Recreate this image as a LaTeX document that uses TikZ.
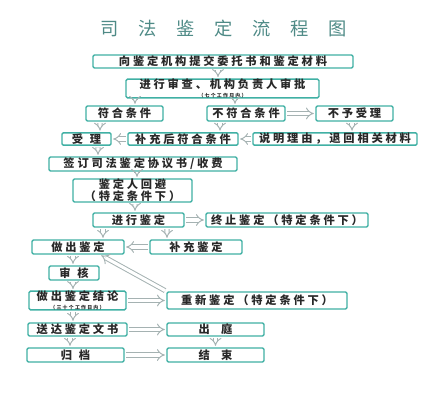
\documentclass[tikz,border=0pt]{standalone}
\usepackage{fontspec}
\setmainfont{Noto Sans CJK SC}[LetterSpace=25]
\newfontfamily\titlefont{Noto Sans CJK SC}[LetterSpace=108]
\usetikzlibrary{arrows.meta}
\definecolor{boxline}{RGB}{64,176,164}
\definecolor{titlecol}{RGB}{78,138,134}
\definecolor{boxtext}{RGB}{40,40,40}
\definecolor{flowcol}{RGB}{165,178,178}
\newcommand\pxu{0.025cm}
\newcommand\note[1]{{\fontsize{3.5}{4}\selectfont #1}}
\begin{document}
\begin{tikzpicture}[x=0.025cm,y=-0.025cm,
	box/.style={draw=boxline,line width=1pt,rounded corners=1pt,fill=white,inner sep=0pt,
		font=\fontsize{8}{9}\selectfont\bfseries,text=boxtext,align=center},
	flow/.style={draw=flowcol,double=white,double distance=2.2pt,line width=0.7pt,
		-{Implies},shorten <=1pt,shorten >=1pt}]
		
		\useasboundingbox (0,0) rectangle (434,400);
		%title
		\node[text=titlecol,font=\titlefont\fontsize{13}{15}\selectfont] (title) at (224,29) {司法鉴定流程图};
		%boxes
		\node[box,minimum width=6.5cm,minimum height=0.325cm] (submit) at (223,61.5) {向鉴定机构提交委托书和鉴定材料};
		\node[box,minimum width=4.825cm,minimum height=0.425cm] (review) at (222.5,88.5) {进行审查、机构负责人审批\\[-3pt]\note{（七个工作日内）}};
		\node[box,minimum width=1.925cm,minimum height=0.375cm] (ok) at (124.5,113.5) {符合条件};
		\node[box,minimum width=1.95cm,minimum height=0.375cm] (notok) at (246,113.5) {不符合条件};
		\node[box,minimum width=1.925cm,minimum height=0.375cm] (reject) at (354.5,113.5) {不予受理};
		\node[box,minimum width=1.225cm,minimum height=0.31cm] (accept) at (86.5,139) {受\hspace{.6em}理};
		\node[box,minimum width=2.75cm,minimum height=0.31cm] (supp) at (183,139) {补充后符合条件};
		\node[box,minimum width=4.1cm,minimum height=0.31cm] (explain) at (335,139) {说明理由，退回相关材料};
		\node[box,minimum width=4.7cm,minimum height=0.35cm] (sign) at (143,164) {签订司法鉴定协议书/收费};
		\node[box,minimum width=2.975cm,minimum height=0.575cm] (avoid) at (132.5,190.5) {鉴定人回避\\[-0.5pt]（特定条件下）};
		\node[box,minimum width=2.275cm,minimum height=0.35cm] (appraise) at (138.5,220) {进行鉴定};
		\node[box,minimum width=4.05cm,minimum height=0.35cm] (stop) at (287,220) {终止鉴定（特定条件下）};
		\node[box,minimum width=2.3cm,minimum height=0.35cm] (make) at (78,247) {做出鉴定};
		\node[box,minimum width=2.3cm,minimum height=0.35cm] (extra) at (196,247) {补充鉴定};
		\node[box,minimum width=1.25cm,minimum height=0.35cm] (check) at (74,273) {审\hspace{.6em}核};
		\node[box,minimum width=2.425cm,minimum height=0.425cm] (concl) at (77.5,300.5) {做出鉴定结论\\[-3pt]\note{（三十个工作日内）}};
		\node[box,minimum width=4.5cm,minimum height=0.425cm] (redo) at (257,300.5) {重新鉴定（特定条件下）};
		\node[box,minimum width=2.475cm,minimum height=0.325cm] (deliver) at (77.5,329.5) {送达鉴定文书};
		\node[box,minimum width=2.425cm,minimum height=0.325cm] (court) at (215.5,329.5) {出\hspace{1em}庭};
		\node[box,minimum width=2.425cm,minimum height=0.35cm] (archive) at (75.5,355) {归\hspace{.6em}档};
		\node[box,minimum width=2.425cm,minimum height=0.35cm] (finish) at (215.5,355) {结\hspace{1em}束};
		%arrows
		\draw[flow] ([xshift=-5*\pxu]submit.south) -- ([xshift=-4.5*\pxu]review.north);
		\draw[flow] ([xshift=-87.5*\pxu]review.south) -- ([xshift=10.5*\pxu]ok.north);
		\draw[flow] ([xshift=12.5*\pxu]review.south) -- ([xshift=-11*\pxu]notok.north);
		\draw[flow] (notok.east) -- (reject.west);
		\draw[flow] ([xshift=-24.5*\pxu]ok.south) -- ([xshift=13.5*\pxu]accept.north);
		\draw[flow] ([xshift=-26*\pxu]notok.south) -- ([xshift=37*\pxu]supp.north);
		\draw[flow] ([xshift=-2.5*\pxu]reject.south) -- ([xshift=17*\pxu]explain.north);
		\draw[flow] (supp.west) -- (accept.east);
		\draw[flow] (explain.west) -- (supp.east);
		\draw[flow] ([xshift=11.5*\pxu]accept.south) -- ([xshift=-45*\pxu]sign.north);
		\draw[flow] ([xshift=-6*\pxu]sign.south) -- ([xshift=4.5*\pxu]avoid.north);
		\draw[flow] ([xshift=2.5*\pxu]avoid.south) -- ([xshift=-3.5*\pxu]appraise.north);
		\draw[flow] (appraise.east) -- (stop.west);
		\draw[flow] ([xshift=-35.5*\pxu]appraise.south) -- ([xshift=25*\pxu]make.north);
		\draw[flow] ([xshift=28.5*\pxu]appraise.south) -- ([xshift=-29*\pxu]extra.north);
		\draw[flow] (extra.west) -- (make.east);
		\draw[flow] ([xshift=-5*\pxu]make.south) -- ([xshift=-1*\pxu]check.north);
		\draw[flow] ([xshift=-1*\pxu]check.south) -- ([xshift=-4.5*\pxu]concl.north);
		\draw[flow] (concl.east) -- (redo.west);
		\draw[flow] (redo.north west) -- ([xshift=22*\pxu]make.south);
		\draw[flow] ([xshift=-4.5*\pxu]concl.south) -- ([xshift=-4.5*\pxu]deliver.north);
		\draw[flow] (deliver.east) -- (court.west);
		\draw[flow] ([xshift=-7.5*\pxu]deliver.south) -- ([xshift=-5.5*\pxu]archive.north);
		\draw[flow] (court.south) -- (finish.north);
		\draw[flow] (archive.east) -- (finish.west);
		\end{tikzpicture}
\end{document}
